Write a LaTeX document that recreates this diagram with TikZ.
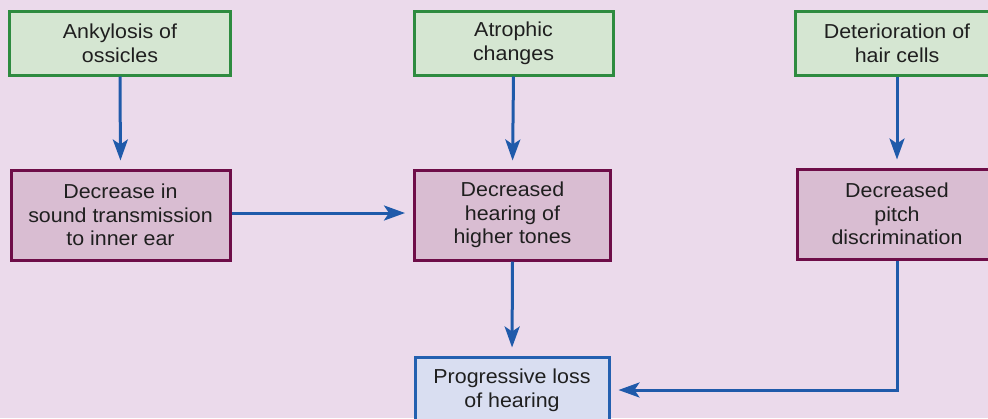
\documentclass[tikz,border=0pt]{standalone}
\usepackage{fontspec}
\setmainfont{Liberation Sans}[FakeStretch=1.06]
\usetikzlibrary{arrows.meta}
\definecolor{bg}{HTML}{EBDAEB}
\definecolor{gfill}{HTML}{D5E6D2}
\definecolor{gline}{HTML}{2E8B40}
\definecolor{pfill}{HTML}{D9BDD2}
\definecolor{pline}{HTML}{6E0D48}
\definecolor{bfill}{HTML}{D9DEF1}
\definecolor{bline}{HTML}{2360B0}
\definecolor{arr}{HTML}{1F5AAA}
\tikzset{
  box/.style={draw, line width=3pt, align=center, inner sep=0pt,
    font=\fontsize{20.2}{23.6}\selectfont, text=black!88},
  cause/.style={box, fill=gfill, draw=gline, minimum height=64pt},
  effect/.style={box, fill=pfill, draw=pline, minimum height=90pt},
  result/.style={box, fill=bfill, draw=bline, minimum height=66pt},
  link/.style={draw=arr, line width=3pt,
    -{Stealth[length=21pt, width=15pt, inset=5pt]}, shorten >=8pt}
}
\begin{document}
\begin{tikzpicture}[x=1pt, y=-1pt]
  \fill[bg] (0,0) rectangle (988,418);
  \useasboundingbox (0,0) rectangle (988,418);
  \clip (0,0) rectangle (988,418);

  % top row: causes
  \node[cause, minimum width=221pt] (g1) at (120,43) {Ankylosis of\\ossicles};
  \node[cause, minimum width=199pt] (g2) at (513.5,43) {Atrophic\\changes};
  \node[cause, minimum width=204pt] (g3) at (897,43) {Deterioration of\\hair cells};

  % middle row: effects
  \node[effect, minimum width=219pt] (p1) at (120.5,215) {Decrease in\\sound transmission\\to inner ear};
  \node[effect, minimum width=196pt] (p2) at (512.5,215) {Decreased\\hearing of\\higher tones};
  \node[effect, minimum width=200pt] (p3) at (897,214) {Decreased\\pitch\\discrimination};

  % outcome
  \node[result, minimum width=194pt] (b) at (512,390) {Progressive loss\\of hearing};

  % connectors
  \draw[link] (g1.south) -- (p1.north);
  \draw[link] (g2.south) -- (p2.north);
  \draw[link] (g3.south) -- (p3.north);
  \draw[link] (p1.east |- 0,213) -- (p2.west |- 0,213);
  \draw[link] (p2.south) -- (b.north);
  \draw[link] (p3.south) |- (b.east);
\end{tikzpicture}
\end{document}
